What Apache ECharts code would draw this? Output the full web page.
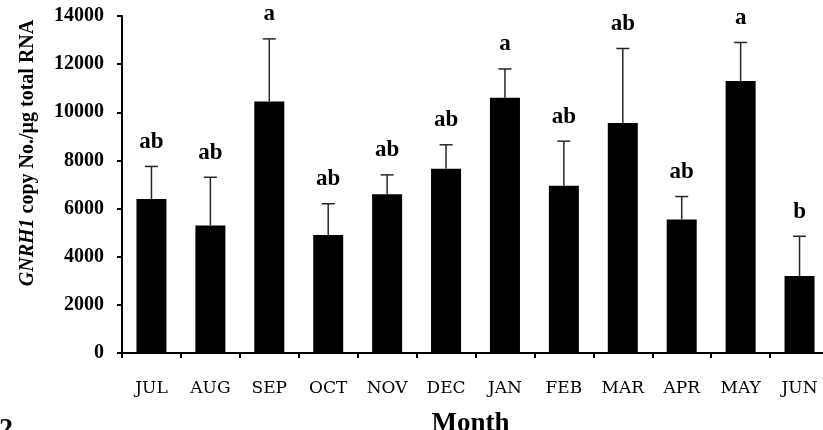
<!DOCTYPE html>
<html>
<head>
<meta charset="utf-8">
<script src="https://cdn.jsdelivr.net/npm/echarts@6/dist/echarts.min.js"></script>
<style>
  html, body { margin: 0; padding: 0; background: #fff; }
  #chart { width: 823px; height: 430px; }
</style>
</head>
<body>
<div id="chart"></div>
<script>
// ---- data ----
const months = ['JUL', 'AUG', 'SEP', 'OCT', 'NOV', 'DEC', 'JAN', 'FEB', 'MAR', 'APR', 'MAY', 'JUN'];
const meanValues = [6400, 5300, 10450, 4900, 6600, 7650, 10600, 6950, 9550, 5550, 11300, 3200];
const errorValues = [1350, 2000, 2600, 1300, 800, 1000, 1200, 1850, 3100, 950, 1600, 1650];
const groupLetters = ['ab', 'ab', 'a', 'ab', 'ab', 'ab', 'a', 'ab', 'ab', 'ab', 'a', 'b'];
const yMin = 0, yMax = 14000, yStep = 2000;

const chart = echarts.init(document.getElementById('chart'), null, { renderer: 'canvas' });

const serif = '"Liberation Serif", "Times New Roman", serif';

const option = {
  animation: false,
  backgroundColor: '#ffffff',
  grid: { left: 122, right: -6, top: 16, bottom: 77, containLabel: false, outerBoundsMode: 'none' },
  xAxis: {
    type: 'category',
    data: months,
    boundaryGap: true,
    axisLine: { show: true, lineStyle: { color: '#000', width: 2 } },
    axisTick: { show: true, length: 5, lineStyle: { color: '#000', width: 2 } },
    axisLabel: {
      color: '#000', fontFamily: '"DejaVu Serif", serif', fontSize: 17,
      margin: 27, interval: 0
    },
    name: 'Month',
    nameLocation: 'middle',
    nameGap: 58,
    nameTextStyle: { color: '#000', fontFamily: serif, fontWeight: 'bold', fontSize: 27, padding: [0, 10, 0, 0] },
    splitLine: { show: false }
  },
  yAxis: {
    type: 'value',
    min: yMin, max: yMax, interval: yStep,
    axisLine: { show: true, lineStyle: { color: '#000', width: 2 } },
    axisTick: { show: true, length: 5, lineStyle: { color: '#000', width: 2 } },
    axisLabel: {
      color: '#000', fontFamily: serif, fontWeight: 'bold', fontSize: 20, margin: 18,
      formatter: function (v) { return String(v); }
    },
    splitLine: { show: false }
  },
  graphic: [
    {
      type: 'text',
      x: 28, y: 153,
      rotation: Math.PI / 2,
      style: {
        text: '{i|GNRH1} copy No./µg total RNA',
        textAlign: 'center',
        textVerticalAlign: 'middle',
        font: 'bold 20px ' + serif,
        fill: '#000',
        rich: {
          i: { fontStyle: 'italic', fontWeight: 'bold', fontSize: 20, fontFamily: serif, fill: '#000' }
        }
      }
    },
    {
      type: 'text',
      x: -1, y: 416,
      style: { text: '2', font: 'bold 28px ' + serif, fill: '#000', textAlign: 'left', textVerticalAlign: 'top' }
    }
  ],
  series: [
    {
      type: 'bar',
      data: meanValues,
      barWidth: 30,
      itemStyle: { color: '#000' },
      z: 2
    },
    {
      type: 'custom',
      z: 3,
      data: months.map((m, i) => [i, meanValues[i], errorValues[i]]),
      renderItem: function (params, api) {
        const idx = params.dataIndex;
        const i = api.value(0);
        const mean = api.value(1);
        const err = api.value(2);
        const base = api.coord([i, mean]);
        const top = api.coord([i, mean + err]);
        const half = 6.5;
        const lineStyle = { stroke: '#262626', lineWidth: 1.5 };
        return {
          type: 'group',
          children: [
            { type: 'line', shape: { x1: base[0], y1: base[1], x2: top[0], y2: top[1] }, style: lineStyle },
            { type: 'line', shape: { x1: top[0] - half, y1: top[1], x2: top[0] + half, y2: top[1] }, style: lineStyle },
            {
              type: 'text',
              x: top[0], y: top[1] - 13,
              style: {
                text: groupLetters[idx],
                textAlign: 'center',
                textVerticalAlign: 'bottom',
                font: 'bold 23px ' + serif,
                fill: '#000'
              }
            }
          ]
        };
      }
    }
  ]
};

chart.setOption(option);
</script>
</body>
</html>
